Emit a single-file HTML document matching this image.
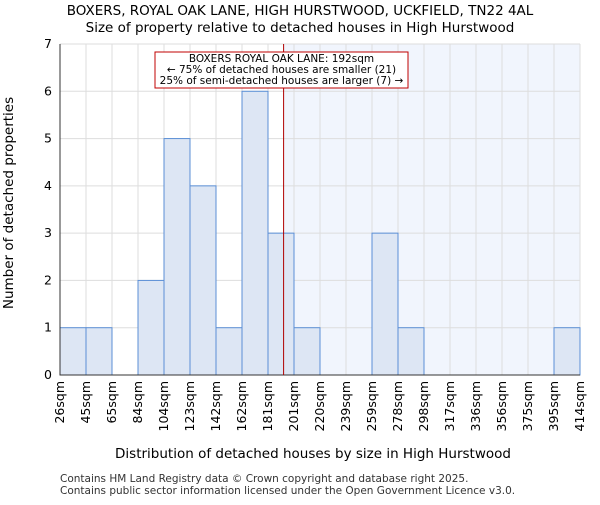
<!DOCTYPE html><html><head><style>body{margin:0;background:#fff}svg text{font-family:"DejaVu Sans","Liberation Sans",sans-serif}</style></head><body>
<svg width="600" height="500" xmlns="http://www.w3.org/2000/svg">
<g id="grid"></g><g id="bars"></g><g id="axes"></g>
<text x="300" y="15" text-anchor="middle" font-size="13.5">BOXERS, ROYAL OAK LANE, HIGH HURSTWOOD, UCKFIELD, TN22 4AL</text>
<text x="300" y="32" text-anchor="middle" font-size="13.5">Size of property relative to detached houses in High Hurstwood</text>
<text x="313" y="458" text-anchor="middle" font-size="13.5">Distribution of detached houses by size in High Hurstwood</text>
<text transform="translate(13,203) rotate(-90)" text-anchor="middle" font-size="13.5">Number of detached properties</text>
<text x="60" y="482" font-size="10.5" fill="#333">Contains HM Land Registry data © Crown copyright and database right 2025.</text>
<text x="60" y="494" font-size="10.5" fill="#333">Contains public sector information licensed under the Open Government Licence v3.0.</text>
</svg>
<script>
const labels=["26sqm","45sqm","65sqm","84sqm","104sqm","123sqm","142sqm","162sqm","181sqm","201sqm","220sqm","239sqm","259sqm","278sqm","298sqm","317sqm","336sqm","356sqm","375sqm","395sqm","414sqm"];
const counts=[1,1,0,2,5,4,1,6,3,1,0,0,3,1,0,0,0,0,0,1];
const yTicks=[0,1,2,3,4,5,6,7];
const propertyBin=8.6;
const NS="http://www.w3.org/2000/svg";
const X0=60,X1=580,Y0=375,Y1=44,YMAX=7;
const bw=(X1-X0)/counts.length;
const xs=i=>X0+i*bw, ys=v=>Y0-(Y0-Y1)*v/YMAX;
function mk(t,a,p){const e=document.createElementNS(NS,t);for(const k in a)e.setAttribute(k,a[k]);document.getElementById(p).appendChild(e);return e;}
const px=xs(propertyBin);
let sh=mk('rect',{x:px,y:Y1,width:X1-px,height:Y0-Y1,fill:'#f1f5fd'},'grid');


for(let i=0;i<labels.length;i++){let l=mk('line',{x1:xs(i),x2:xs(i),y1:Y1,y2:Y0,stroke:'#ddd'},'grid');

}
yTicks.forEach(v=>{let l=mk('line',{x1:X0,x2:X1,y1:ys(v),y2:ys(v),stroke:'#ddd'},'grid');


let t=mk('text',{x:X0-8,y:ys(v)+4,'text-anchor':'end','font-size':12.5},'axes');t.textContent=v;

});
counts.forEach((c,i)=>{if(!c)return;let r=mk('rect',{x:xs(i),y:ys(c),width:bw,height:Y0-ys(c),fill:'#dde6f4',stroke:'#5b8fd6','stroke-width':1},'bars');

});
labels.forEach((s,i)=>{let t=mk('text',{transform:`translate(${xs(i)+4},381) rotate(-90)`,'text-anchor':'end','font-size':12.5},'axes');t.textContent=s;

});
let ax=mk('path',{d:`M${X0},${Y1}V${Y0}H${X1}`,fill:'none',stroke:'#333'},'axes');


let pl=mk('line',{x1:px,x2:px,y1:Y1,y2:Y0,stroke:'#b00000','stroke-width':1},'axes');


let bx=mk('rect',{x:155,y:52,width:253,height:36,fill:'#fff',stroke:'#c00000'},'axes');


["BOXERS ROYAL OAK LANE: 192sqm","← 75% of detached houses are smaller (21)","25% of semi-detached houses are larger (7) →"].forEach((s,i)=>{let t=mk('text',{x:281.5,y:62+i*11,'text-anchor':'middle','font-size':10.5},'axes');t.textContent=s;

});
</script></body></html>
